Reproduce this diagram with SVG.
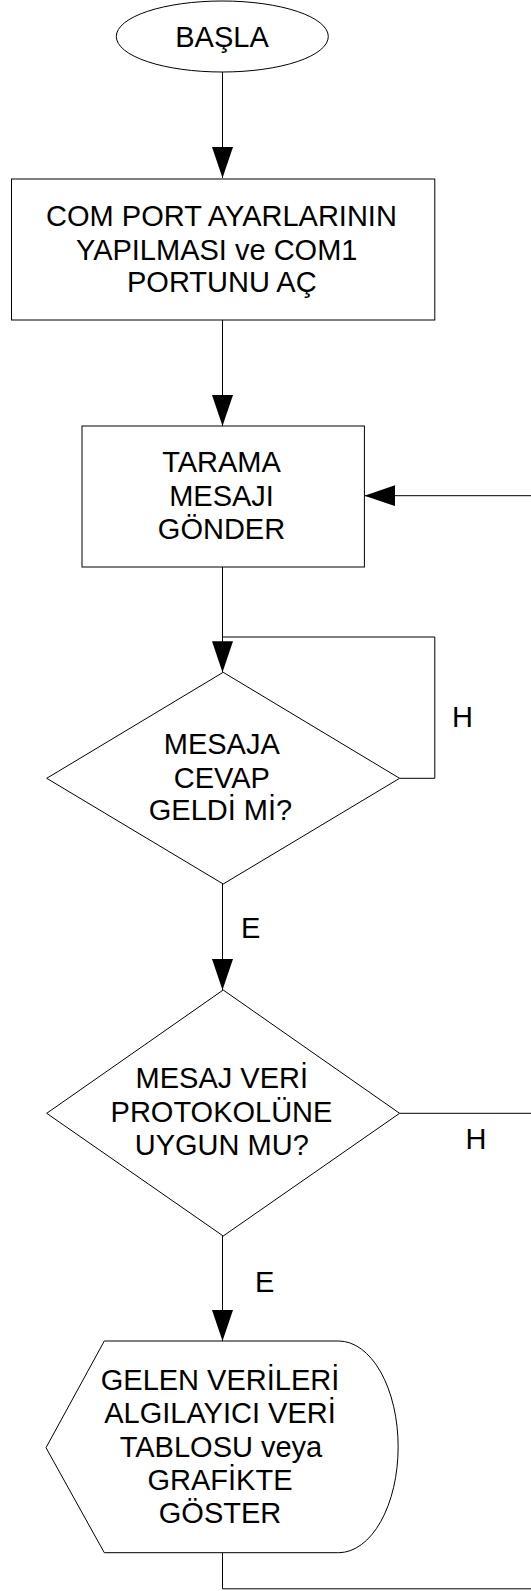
<svg xmlns="http://www.w3.org/2000/svg" width="531" height="1591" viewBox="0 0 531 1591">
  <style>
    .shape { fill: #ffffff; stroke: #000000; stroke-width: 1; }
    .wire { fill: none; stroke: #000000; stroke-width: 1; }
    .lbl { font-family: "Liberation Sans", Arial, sans-serif; font-size: 29px; fill: #000000; }
    .mid { text-anchor: middle; }
  </style>
  <defs>
    <marker id="arrow" viewBox="0 0 31 21" refX="31" refY="10.5" markerWidth="31" markerHeight="21" markerUnits="userSpaceOnUse" orient="auto">
      <path d="M0,0 L31,10.5 L0,21 Z" fill="#000000"/>
    </marker>
  </defs>

  <!-- connectors -->
  <g id="connectors">
    <path class="wire" d="M222.5,72 V178" marker-end="url(#arrow)"/>
    <path class="wire" d="M222.5,320 V426" marker-end="url(#arrow)"/>
    <path class="wire" d="M222.5,567 V637" />
    <path class="wire" d="M399.6,778.3 H434.8 V637 H222.5 V672.3" marker-end="url(#arrow)"/>
    <path class="wire" d="M222.5,884 V990" marker-end="url(#arrow)"/>
    <path class="wire" d="M399.6,1113.3 H560 V495.7 H364.4" marker-end="url(#arrow)"/>
    <path class="wire" d="M222.5,1236 V1341" marker-end="url(#arrow)"/>
    <path class="wire" d="M222.5,1552.7 V1588.8 H560 V1113.3"/>
    <text class="lbl" x="452" y="727.3">H</text>
    <text class="lbl" x="241" y="937.7">E</text>
    <text class="lbl" x="465.6" y="1149.3">H</text>
    <text class="lbl" x="255" y="1291.7">E</text>
  </g>

  <!-- start terminal -->
  <g id="start">
    <ellipse class="shape" cx="222.3" cy="36.5" rx="106" ry="35.5"/>
    <text class="lbl mid" x="222" y="46.7">BAŞLA</text>
  </g>

  <!-- port setup -->
  <g id="port-setup">
    <rect class="shape" x="11.5" y="179" width="423.3" height="141"/>
    <text class="lbl mid" x="221.5" y="225.7">COM PORT AYARLARININ</text>
    <text class="lbl mid" x="216.7" y="260">YAPILMASI ve COM1</text>
    <text class="lbl mid" x="221.8" y="292.3">PORTUNU AÇ</text>
  </g>

  <!-- send scan message -->
  <g id="send-scan">
    <rect class="shape" x="82" y="426" width="282.4" height="141"/>
    <text class="lbl mid" x="221.5" y="472.3">TARAMA</text>
    <text class="lbl mid" x="221.5" y="505.7">MESAJI</text>
    <text class="lbl mid" x="221.5" y="539">GÖNDER</text>
  </g>

  <!-- reply received? -->
  <g id="reply-check">
    <polygon class="shape" points="223.2,672.3 399.6,778.3 223.2,884 46.7,778.3"/>
    <text class="lbl mid" x="221.8" y="754.3">MESAJA</text>
    <text class="lbl mid" x="221.8" y="787.7">CEVAP</text>
    <text class="lbl mid" x="220.5" y="820.3">GELDİ Mİ?</text>
  </g>

  <!-- protocol check -->
  <g id="protocol-check">
    <polygon class="shape" points="223.2,990 399.6,1113.3 223.2,1236 46.7,1113.3"/>
    <text class="lbl mid" x="221.8" y="1088.3">MESAJ VERİ</text>
    <text class="lbl mid" x="221.5" y="1122.3">PROTOKOLÜNE</text>
    <text class="lbl mid" x="221.8" y="1155">UYGUN MU?</text>
  </g>

  <!-- display data -->
  <g id="display-data">
    <path class="shape" d="M46,1447.7 L104.3,1341 H338.6 A59.6,105.85 0 0 1 338.6,1552.7 H104.3 Z"/>
    <text class="lbl mid" x="220" y="1390">GELEN VERİLERİ</text>
    <text class="lbl mid" x="220" y="1423.3">ALGILAYICI VERİ</text>
    <text class="lbl mid" x="221" y="1456.7">TABLOSU veya</text>
    <text class="lbl mid" x="220" y="1490">GRAFİKTE</text>
    <text class="lbl mid" x="220" y="1523.3">GÖSTER</text>
  </g>
</svg>
